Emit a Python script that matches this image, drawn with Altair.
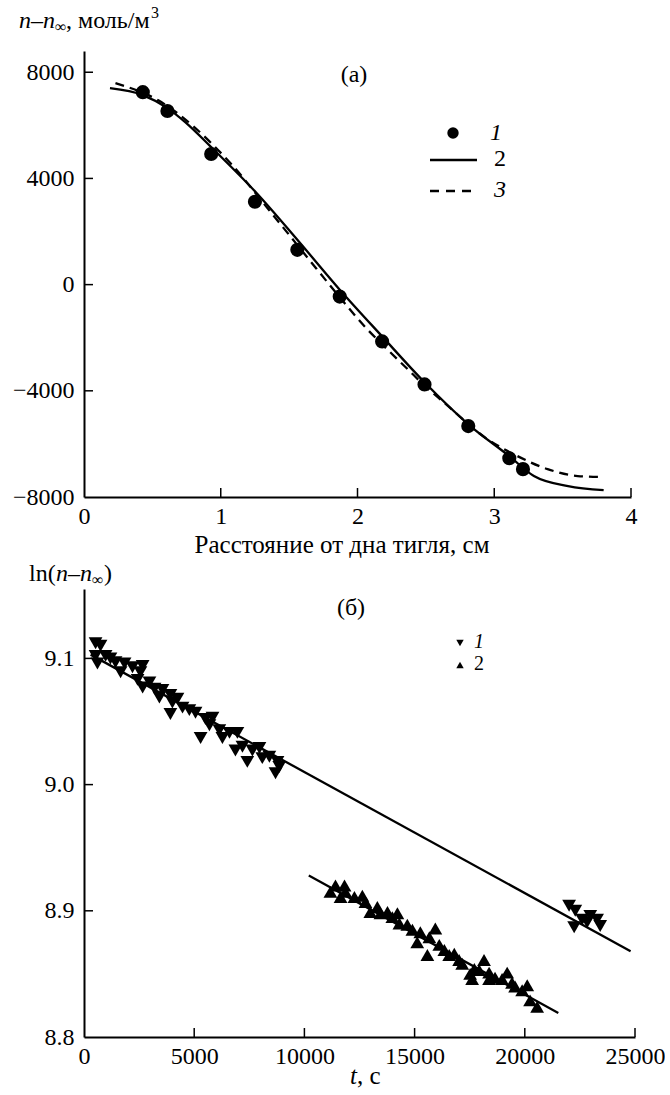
import altair as alt
import pandas as pd

FONT = "Liberation Serif"
FS = 24      # tick labels
FT = 25      # axis titles

# ---------- Panel (a) ----------
a_pts_x = [0.43, 0.61, 0.93, 1.25, 1.56, 1.87, 2.18, 2.49, 2.81, 3.11, 3.21]
a_pts_y = [7250, 6540, 4920, 3120, 1310, -450, -2140, -3760, -5330, -6540, -6950]

a_sol_x = [0.19, 0.43, 0.61, 0.74, 0.93, 1.26, 1.56, 1.87, 2.18, 2.49, 2.81, 3.11, 3.29, 3.54, 3.80]
a_sol_y = [7400, 7140, 6650, 6120, 5180, 3460, 1690, -190, -1950, -3680, -5260, -6460, -7210, -7590, -7740]

a_dash_x = [0.23, 0.54, 1.07, 1.37, 1.70, 1.89, 2.06, 2.22, 2.36, 2.50, 2.63, 2.95, 3.17, 3.39, 3.61, 3.80]
a_dash_y = [7590, 6950, 4580, 2700, 600, -600, -1620, -2450, -3150, -3850, -4430, -5820, -6460, -6950, -7210, -7250]

a_xticks = [0, 1, 2, 3, 4]
a_yticks = [-8000, -4000, 0, 4000, 8000]

# ---------- Panel (б) ----------
b1_t = [525, 750, 525, 610, 980, 1200, 1430, 1660, 1840, 2200, 2660, 2560, 2430, 2660, 2970,
        3200, 3420, 3560, 3920, 4010, 4240, 3920, 4470, 4780, 5060, 5290, 5510, 5830, 5690,
        6140, 6280, 6600, 6960, 6870, 7190, 7410, 7640, 7960, 8090, 8410, 8690, 8780, 8860,
        22010, 22290, 22240, 22600, 22970, 23280, 23420, 22830]
b1_y = [9.112, 9.110, 9.102, 9.096, 9.102, 9.100, 9.097, 9.089, 9.096, 9.093, 9.094, 9.089,
        9.083, 9.077, 9.081, 9.076, 9.069, 9.075, 9.071, 9.065, 9.068, 9.056, 9.061, 9.059,
        9.057, 9.037, 9.052, 9.053, 9.047, 9.043, 9.037, 9.041, 9.041, 9.027, 9.030, 9.018,
        9.027, 9.029, 9.021, 9.022, 9.009, 9.018, 9.014,
        8.904, 8.900, 8.887, 8.893, 8.896, 8.893, 8.888, 8.891]

b2_t = [11180, 11410, 11820, 11860, 11640, 12270, 12630, 12770, 12990, 13310, 13450, 13770,
        13990, 14220, 14310, 14670, 14900, 15120, 15260, 15580, 15670, 15940, 16120, 16350,
        16570, 16800, 17020, 17160, 17520, 17610, 17930, 18150, 18380, 18380, 18650, 18970,
        19200, 19420, 19560, 19880, 20110, 20240, 20560, 17710]
b2_y = [8.915, 8.920, 8.920, 8.915, 8.911, 8.911, 8.912, 8.907, 8.899, 8.903, 8.898, 8.899,
        8.895, 8.898, 8.890, 8.889, 8.885, 8.875, 8.883, 8.865, 8.879, 8.886, 8.873, 8.869,
        8.865, 8.866, 8.861, 8.858, 8.850, 8.846, 8.853, 8.861, 8.846, 8.851, 8.847, 8.846,
        8.851, 8.843, 8.840, 8.837, 8.841, 8.829, 8.824, 8.854]

fit1_t = [300, 24800]
fit1_y = [9.103, 8.868]
fit2_t = [10200, 21520]
fit2_y = [8.928, 8.819]

b_xticks = [0, 5000, 10000, 15000, 20000, 25000]
b_yticks = [8.8, 8.9, 9.0, 9.1]

# ---------- helpers ----------
W_A, H_A = 547, 446
W_B, H_B = 551, 448


def axis(values, fmt, pad):
    return alt.Axis(values=values, format=fmt, ticks=False, grid=False, title=None,
                    domainColor="black", domainWidth=2, labelFont=FONT, labelFontSize=FS,
                    labelColor="black", labelPadding=pad, labelFlush=False, labelOverlap=False)


def txt(s, x, y, size=FT, style="normal", align="left"):
    return alt.Chart(pd.DataFrame({"s": [s]})).mark_text(
        font=FONT, fontSize=size, fontStyle=style, align=align, baseline="middle", color="black"
    ).encode(text="s:N", x=alt.value(x), y=alt.value(y))


# ---------- Panel (a) chart ----------
ax_x = lambda f: alt.X(f, scale=alt.Scale(domain=[0, 4], nice=False, zero=False),
                       axis=axis(a_xticks, "d", 7))
ax_y = lambda f: alt.Y(f, scale=alt.Scale(domain=[-8000, 8800], nice=False, zero=False),
                       axis=axis(a_yticks, "d", 10))

dfa_p = pd.DataFrame({"x": a_pts_x, "y": a_pts_y})
dfa_s = pd.DataFrame({"x": a_sol_x, "y": a_sol_y})
dfa_d = pd.DataFrame({"x": a_dash_x, "y": a_dash_y})

a_sol = alt.Chart(dfa_s).mark_line(color="black", strokeWidth=2.3, interpolate="monotone").encode(
    x=ax_x("x:Q"), y=ax_y("y:Q"))
a_dash = alt.Chart(dfa_d).mark_line(color="black", strokeWidth=2.3, strokeDash=[9, 6],
                                    interpolate="monotone").encode(x=ax_x("x:Q"), y=ax_y("y:Q"))
a_pts = alt.Chart(dfa_p).mark_circle(color="black", size=200, opacity=1).encode(
    x=ax_x("x:Q"), y=ax_y("y:Q"))

a_xt = alt.Chart(pd.DataFrame({"v": a_xticks[1:]})).mark_rule(color="black", strokeWidth=1.5).encode(
    x=ax_x("v:Q"), y=alt.value(H_A), y2=alt.value(H_A - 9))
a_yt = alt.Chart(pd.DataFrame({"v": a_yticks[1:]})).mark_rule(color="black", strokeWidth=1.5).encode(
    y=ax_y("v:Q"), x=alt.value(0), x2=alt.value(9))

a_leg_dot = alt.Chart(pd.DataFrame({"k": [1]})).mark_circle(color="black", size=130, opacity=1).encode(
    x=alt.value(369), y=alt.value(82))
a_leg_sol = alt.Chart(pd.DataFrame({"k": [1]})).mark_rule(color="black", strokeWidth=2.3).encode(
    x=alt.value(346), x2=alt.value(393), y=alt.value(109))
a_leg_dash = alt.Chart(pd.DataFrame({"k": [1]})).mark_rule(color="black", strokeWidth=2.3,
                                                          strokeDash=[9, 7]).encode(
    x=alt.value(346), x2=alt.value(393), y=alt.value(140))

a_texts = [
    txt("(а)", 270, 24, size=24, align="center"),
    txt("1", 406, 82, size=24, style="italic"),
    txt("2", 410, 108, size=24),
    txt("3", 410, 139, size=24, style="italic"),
    txt("n–n", -65, -30, size=24, style="italic"),
    txt("∞", -29, -24, size=16),
    txt(", моль/м", -18, -30, size=24),
    txt("3", 67, -38, size=16),
    txt("Расстояние от дна тигля, см", 258, H_A + 48, align="center"),
]

top = alt.layer(a_sol, a_dash, a_pts, a_xt, a_yt, a_leg_dot, a_leg_sol, a_leg_dash,
                *a_texts).properties(width=W_A, height=H_A)

# ---------- Panel (б) chart ----------
bx = lambda f: alt.X(f, scale=alt.Scale(domain=[0, 25000], nice=False, zero=False),
                     axis=axis(b_xticks, "d", 7))
by = lambda f: alt.Y(f, scale=alt.Scale(domain=[8.8, 9.155], nice=False, zero=False),
                     axis=axis(b_yticks, ".1f", 10))

df1 = pd.DataFrame({"t": b1_t, "y": b1_y})
df2 = pd.DataFrame({"t": b2_t, "y": b2_y})
dff1 = pd.DataFrame({"t": fit1_t, "y": fit1_y})
dff2 = pd.DataFrame({"t": fit2_t, "y": fit2_y})

b_f1 = alt.Chart(dff1).mark_line(color="black", strokeWidth=2.3).encode(x=bx("t:Q"), y=by("y:Q"))
b_f2 = alt.Chart(dff2).mark_line(color="black", strokeWidth=2.3).encode(x=bx("t:Q"), y=by("y:Q"))
b_p1 = alt.Chart(df1).mark_point(shape="triangle-down", filled=True, size=190, color="black",
                                 opacity=1).encode(x=bx("t:Q"), y=by("y:Q"))
b_p2 = alt.Chart(df2).mark_point(shape="triangle-up", filled=True, size=190, color="black",
                                 opacity=1).encode(x=bx("t:Q"), y=by("y:Q"))

b_xt = alt.Chart(pd.DataFrame({"v": b_xticks[1:]})).mark_rule(color="black", strokeWidth=1.5).encode(
    x=bx("v:Q"), y=alt.value(H_B), y2=alt.value(H_B - 9))
b_yt = alt.Chart(pd.DataFrame({"v": b_yticks[1:]})).mark_rule(color="black", strokeWidth=1.5).encode(
    y=by("v:Q"), x=alt.value(0), x2=alt.value(9))

b_leg1 = alt.Chart(pd.DataFrame({"k": [1]})).mark_point(shape="triangle-down", filled=True, size=55,
                                                        color="black", opacity=1).encode(
    x=alt.value(376), y=alt.value(54))
b_leg2 = alt.Chart(pd.DataFrame({"k": [1]})).mark_point(shape="triangle-up", filled=True, size=55,
                                                        color="black", opacity=1).encode(
    x=alt.value(376), y=alt.value(76))

b_texts = [
    txt("(б)", 267, 19, size=24, align="center"),
    txt("1", 390, 53, size=20, style="italic"),
    txt("2", 390, 75, size=20),
    txt("ln(", -55, -15, size=24),
    txt("n–n", -28, -15, size=24, style="italic"),
    txt("∞", 8, -9, size=16),
    txt(")", 20, -15, size=24),
    txt("t", 266, H_B + 39, style="italic"),
    txt(", с", 273, H_B + 39),
]

bottom = alt.layer(b_f1, b_f2, b_p1, b_p2, b_xt, b_yt, b_leg1, b_leg2,
                   *b_texts).properties(width=W_B, height=H_B)

chart = alt.vconcat(top, bottom, spacing=4).properties(
    padding={"left": 12, "top": 5, "right": 0, "bottom": 0},
    background="white",
).configure_view(stroke=None)

chart.save("out.html", embed_options={"renderer": "svg", "actions": False})
